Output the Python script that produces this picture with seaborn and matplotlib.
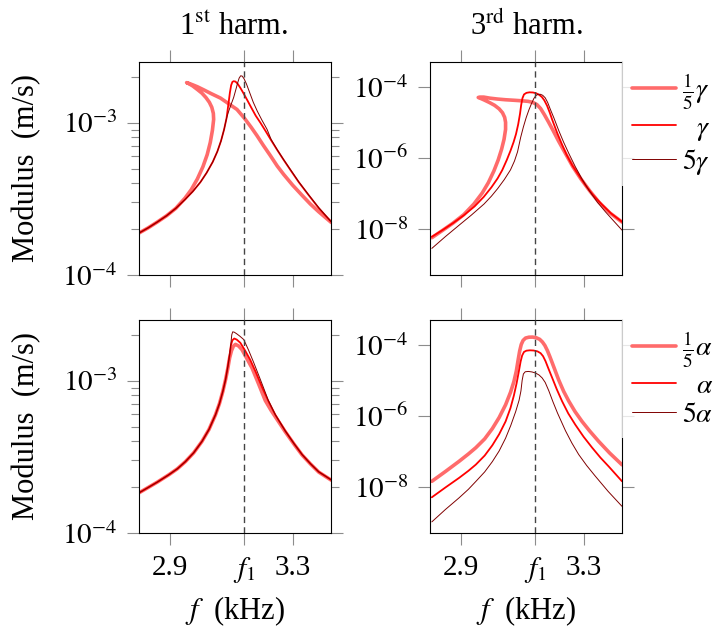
import numpy as np
import matplotlib
matplotlib.use("Agg")
import matplotlib.pyplot as plt
from matplotlib.ticker import LogLocator, NullLocator, NullFormatter
import seaborn as sns

# ====== Data ======
F1 = 3.143  # kHz, linear resonance

# --- 1st harmonic, gamma sweep ---
f_h1_g5th = [2.801, 2.830, 2.860, 2.890, 2.920, 2.950, 2.970, 2.990, 3.008, 3.022, 3.032, 3.039,
             3.043, 3.042, 3.037, 3.029, 3.018, 3.005, 2.990, 2.975, 2.963, 2.955,
             2.962, 2.975, 2.990, 3.011, 3.035, 3.065, 3.092, 3.119, 3.143, 3.165, 3.184, 3.205,
             3.227, 3.250, 3.271, 3.300, 3.331, 3.358, 3.385, 3.426]
v_h1_g5th = [1.89e-4, 2.04e-4, 2.23e-4, 2.45e-4, 2.74e-4, 3.20e-4, 3.63e-4, 4.27e-4, 5.13e-4,
             6.17e-4, 7.41e-4, 8.91e-4, 1.05e-3, 1.15e-3, 1.26e-3, 1.36e-3, 1.46e-3, 1.56e-3,
             1.65e-3, 1.74e-3, 1.80e-3, 1.83e-3,
             1.81e-3, 1.77e-3, 1.72e-3, 1.64e-3, 1.55e-3, 1.45e-3, 1.33e-3, 1.22e-3, 1.07e-3,
             9.33e-4, 8.22e-4, 7.08e-4, 6.10e-4, 5.19e-4, 4.57e-4, 3.89e-4, 3.33e-4, 2.92e-4,
             2.60e-4, 2.21e-4]
f_h1_g = [2.801, 2.830, 2.860, 2.890, 2.920, 2.950, 2.975, 3.000, 3.020, 3.040, 3.055, 3.067,
          3.077, 3.085, 3.091, 3.096, 3.100, 3.104, 3.108, 3.114, 3.121, 3.130, 3.140, 3.152,
          3.165, 3.180, 3.195, 3.212, 3.230, 3.250, 3.271, 3.292, 3.320, 3.352, 3.385, 3.426]
v_h1_g = [1.89e-4, 2.04e-4, 2.23e-4, 2.45e-4, 2.74e-4, 3.13e-4, 3.53e-4, 4.07e-4, 4.68e-4,
          5.52e-4, 6.46e-4, 7.59e-4, 9.02e-4, 1.07e-3, 1.32e-3, 1.58e-3, 1.76e-3, 1.85e-3,
          1.87e-3, 1.86e-3, 1.80e-3, 1.69e-3, 1.56e-3, 1.41e-3, 1.26e-3, 1.11e-3, 1.00e-3,
          8.81e-4, 7.67e-4, 6.61e-4, 5.69e-4, 4.92e-4, 4.07e-4, 3.35e-4, 2.75e-4, 2.23e-4]
f_h1_g5 = [2.801, 2.830, 2.860, 2.890, 2.920, 2.950, 2.975, 3.000, 3.020, 3.040, 3.055, 3.067,
           3.077, 3.085, 3.092, 3.100, 3.108, 3.115, 3.121, 3.126, 3.131, 3.136, 3.142, 3.150,
           3.160, 3.172, 3.185, 3.200, 3.217, 3.230, 3.250, 3.271, 3.292, 3.320, 3.352, 3.385,
           3.426]
v_h1_g5 = [1.89e-4, 2.04e-4, 2.23e-4, 2.45e-4, 2.74e-4, 3.13e-4, 3.53e-4, 4.07e-4, 4.68e-4,
           5.52e-4, 6.46e-4, 7.59e-4, 9.02e-4, 1.07e-3, 1.19e-3, 1.32e-3, 1.46e-3, 1.64e-3,
           1.82e-3, 1.96e-3, 2.03e-3, 2.02e-3, 1.94e-3, 1.79e-3, 1.58e-3, 1.36e-3, 1.19e-3,
           1.04e-3, 9.02e-4, 7.76e-4, 6.64e-4, 5.71e-4, 4.95e-4, 4.09e-4, 3.36e-4, 2.77e-4,
           2.23e-4]

# --- 3rd harmonic, gamma sweep ---
f_h3_g5th = [2.806, 2.840, 2.875, 2.910, 2.943, 2.970, 2.990, 3.008, 3.022, 3.033, 3.041, 3.046,
             3.046, 3.043, 3.036, 3.025, 3.010, 2.993, 2.976, 2.963, 2.957,
             2.963, 2.975, 2.995, 3.020, 3.046, 3.075, 3.100, 3.120, 3.135, 3.148, 3.160, 3.172,
             3.185, 3.200, 3.218, 3.241, 3.265, 3.290, 3.320, 3.350, 3.385, 3.425]
v_h3_g5th = [5.62e-9, 8.91e-9, 1.45e-8, 2.51e-8, 5.01e-8, 1.02e-7, 2.00e-7, 4.27e-7, 8.71e-7,
             1.74e-6, 3.31e-6, 6.31e-6, 1.00e-5, 1.38e-5, 1.86e-5, 2.40e-5, 3.02e-5, 3.63e-5,
             4.27e-5, 4.79e-5, 5.01e-5,
             5.13e-5, 5.13e-5, 4.79e-5, 4.52e-5, 4.32e-5, 4.17e-5, 4.03e-5, 3.89e-5, 3.63e-5,
             3.16e-5, 2.45e-5, 1.66e-5, 1.05e-5, 6.03e-6, 3.02e-6, 1.32e-6, 5.62e-7, 2.63e-7,
             1.17e-7, 5.62e-8, 2.82e-8, 1.55e-8]
f_h3_g = [2.806, 2.840, 2.875, 2.910, 2.945, 2.975, 3.000, 3.020, 3.035, 3.050, 3.062, 3.072,
          3.080, 3.087, 3.093, 3.097, 3.101, 3.106, 3.114, 3.124, 3.135, 3.145, 3.155, 3.164,
          3.172, 3.181, 3.190, 3.198, 3.214, 3.230, 3.245, 3.263, 3.285, 3.306, 3.330, 3.360,
          3.390, 3.425]
v_h3_g = [5.96e-9, 9.12e-9, 1.45e-8, 2.40e-8, 4.27e-8, 7.94e-8, 1.48e-7, 2.63e-7, 4.47e-7,
          8.71e-7, 1.58e-6, 2.75e-6, 4.68e-6, 8.71e-6, 1.74e-5, 3.16e-5, 4.79e-5, 6.10e-5,
          6.76e-5, 7.00e-5, 6.92e-5, 6.61e-5, 5.96e-5, 5.19e-5, 4.17e-5, 2.95e-5, 1.86e-5,
          1.17e-5, 5.01e-6, 2.34e-6, 1.20e-6, 6.17e-7, 3.16e-7, 1.70e-7, 9.12e-8, 4.79e-8,
          2.69e-8, 1.58e-8]
f_h3_g5 = [2.806, 2.850, 2.8945, 2.935, 2.976, 3.000, 3.020, 3.042, 3.062, 3.075, 3.085, 3.095,
           3.104, 3.113, 3.122, 3.130, 3.138, 3.145, 3.152, 3.160, 3.167, 3.175, 3.183, 3.192,
           3.203, 3.219, 3.235, 3.252, 3.273, 3.295, 3.317, 3.345, 3.371, 3.398, 3.425]
v_h3_g5 = [2.81e-9, 6.03e-9, 1.26e-8, 2.45e-8, 5.01e-8, 8.32e-8, 1.35e-7, 2.45e-7, 4.57e-7,
           8.13e-7, 1.48e-6, 3.72e-6, 7.41e-6, 1.35e-5, 2.24e-5, 3.31e-5, 4.68e-5, 5.69e-5,
           6.17e-5, 6.14e-5, 5.75e-5, 4.90e-5, 3.63e-5, 2.29e-5, 1.35e-5, 5.89e-6, 2.75e-6,
           1.32e-6, 5.62e-7, 2.51e-7, 1.23e-7, 5.62e-8, 3.02e-8, 1.66e-8, 9.18e-9]

# --- 1st harmonic, alpha sweep ---
f_h1_a5th = [2.801, 2.830, 2.860, 2.897, 2.925, 2.951, 2.978, 3.005, 3.028, 3.049, 3.062, 3.073,
             3.082, 3.089, 3.095, 3.101, 3.107, 3.114, 3.124, 3.135, 3.150, 3.168, 3.190, 3.211,
             3.230, 3.276, 3.305, 3.331, 3.358, 3.385, 3.426]
v_h1_a5th = [1.84e-4, 1.99e-4, 2.16e-4, 2.41e-4, 2.64e-4, 2.94e-4, 3.36e-4, 3.99e-4, 4.79e-4,
             5.97e-4, 7.08e-4, 8.51e-4, 1.02e-3, 1.20e-3, 1.41e-3, 1.57e-3, 1.68e-3, 1.73e-3,
             1.69e-3, 1.60e-3, 1.41e-3, 1.21e-3, 9.44e-4, 7.41e-4, 6.38e-4, 4.62e-4, 3.82e-4,
             3.25e-4, 2.84e-4, 2.51e-4, 2.22e-4]
f_h1_a = [2.801, 2.830, 2.860, 2.897, 2.925, 2.951, 2.978, 3.005, 3.028, 3.049, 3.062, 3.073,
          3.082, 3.089, 3.095, 3.099, 3.104, 3.110, 3.118, 3.130, 3.145, 3.162, 3.180, 3.200,
          3.220, 3.244, 3.276, 3.305, 3.331, 3.358, 3.385, 3.426]
v_h1_a = [1.84e-4, 1.99e-4, 2.16e-4, 2.41e-4, 2.64e-4, 2.94e-4, 3.36e-4, 3.99e-4, 4.79e-4,
          5.97e-4, 7.08e-4, 8.51e-4, 1.02e-3, 1.23e-3, 1.48e-3, 1.70e-3, 1.84e-3, 1.89e-3,
          1.86e-3, 1.77e-3, 1.58e-3, 1.37e-3, 1.14e-3, 9.12e-4, 7.41e-4, 5.96e-4, 4.68e-4,
          3.85e-4, 3.27e-4, 2.85e-4, 2.52e-4, 2.23e-4]
f_h1_a5 = [2.801, 2.830, 2.860, 2.897, 2.925, 2.951, 2.978, 3.005, 3.028, 3.049, 3.062, 3.073,
           3.082, 3.089, 3.095, 3.099, 3.102, 3.105, 3.110, 3.118, 3.128, 3.141, 3.157, 3.173,
           3.190, 3.205, 3.220, 3.244, 3.276, 3.305, 3.331, 3.358, 3.385, 3.426]
v_h1_a5 = [1.84e-4, 1.99e-4, 2.16e-4, 2.41e-4, 2.64e-4, 2.94e-4, 3.36e-4, 3.99e-4, 4.79e-4,
           5.97e-4, 7.08e-4, 8.51e-4, 1.02e-3, 1.23e-3, 1.48e-3, 1.74e-3, 2.00e-3, 2.09e-3,
           2.08e-3, 2.03e-3, 1.96e-3, 1.86e-3, 1.58e-3, 1.32e-3, 1.08e-3, 9.02e-4, 7.50e-4,
           5.96e-4, 4.68e-4, 3.85e-4, 3.27e-4, 2.85e-4, 2.52e-4, 2.23e-4]

# --- 3rd harmonic, alpha sweep ---
f_h3_a5th = [2.806, 2.850, 2.8945, 2.925, 2.949, 2.978, 3.003, 3.025, 3.046, 3.062, 3.073, 3.081,
             3.087, 3.092, 3.097, 3.103, 3.111, 3.122, 3.134, 3.146, 3.157, 3.166, 3.174, 3.182,
             3.190, 3.198, 3.208, 3.219, 3.235, 3.252, 3.272, 3.295, 3.320, 3.349, 3.385, 3.425]
v_h3_a5th = [1.43e-8, 2.69e-8, 5.21e-8, 8.41e-8, 1.26e-7, 2.24e-7, 4.37e-7, 8.91e-7, 2.04e-6,
             4.57e-6, 9.12e-6, 1.82e-5, 3.80e-5, 6.76e-5, 1.02e-4, 1.33e-4, 1.55e-4, 1.64e-4,
             1.65e-4, 1.58e-4, 1.43e-4, 1.20e-4, 9.55e-5, 6.92e-5, 4.68e-5, 3.09e-5, 1.82e-5,
             1.02e-5, 4.90e-6, 2.57e-6, 1.32e-6, 6.92e-7, 3.72e-7, 1.91e-7, 8.91e-8, 4.17e-8]
f_h3_a = [2.806, 2.850, 2.8945, 2.925, 2.949, 2.978, 3.003, 3.025, 3.046, 3.062, 3.073, 3.082,
          3.089, 3.095, 3.100, 3.106, 3.114, 3.125, 3.137, 3.150, 3.160, 3.168, 3.176, 3.186,
          3.198, 3.213, 3.230, 3.250, 3.273, 3.300, 3.328, 3.355, 3.382, 3.425]
v_h3_a = [5.07e-9, 9.55e-9, 1.78e-8, 2.82e-8, 4.21e-8, 7.59e-8, 1.48e-7, 3.02e-7, 6.92e-7,
          1.66e-6, 3.72e-6, 8.32e-6, 1.74e-5, 3.39e-5, 5.01e-5, 6.31e-5, 6.84e-5, 7.00e-5,
          6.92e-5, 6.53e-5, 5.82e-5, 4.79e-5, 3.47e-5, 2.09e-5, 1.16e-5, 5.50e-6, 2.57e-6,
          1.17e-6, 5.62e-7, 2.57e-7, 1.26e-7, 6.61e-8, 3.72e-8, 1.43e-8]
f_h3_a5 = [2.806, 2.850, 2.8945, 2.925, 2.949, 2.978, 3.003, 3.025, 3.046, 3.063, 3.079, 3.090,
           3.096, 3.100, 3.104, 3.110, 3.120, 3.132, 3.144, 3.155, 3.165, 3.175, 3.187, 3.200,
           3.215, 3.241, 3.262, 3.284, 3.310, 3.338, 3.380, 3.425]
v_h3_a5 = [1.03e-9, 2.29e-9, 4.88e-9, 8.51e-9, 1.41e-8, 2.63e-8, 5.13e-8, 1.02e-7, 2.34e-7,
           5.37e-7, 1.32e-6, 2.75e-6, 5.01e-6, 1.00e-5, 1.51e-5, 1.74e-5, 1.78e-5, 1.72e-5,
           1.60e-5, 1.41e-5, 1.17e-5, 8.71e-6, 5.01e-6, 2.51e-6, 1.20e-6, 3.80e-7, 1.70e-7,
           8.13e-8, 3.98e-8, 2.00e-8, 7.41e-9, 2.82e-9]

x_ticks = [2.9, F1, 3.3]
x_tick_labels = ["2.9", r"$f_1$", "3.3"]
y_ticks_h1 = [1e-4, 1e-3]
y_tick_labels_h1 = [r"$10^{-4}$", r"$10^{-3}$"]
y_ticks_h3 = [1e-8, 1e-6, 1e-4]
y_tick_labels_h3 = [r"$10^{-8}$", r"$10^{-6}$", r"$10^{-4}$"]
gamma_labels = [r"$\frac{1}{5}\gamma$", r"$\gamma$", r"$5\gamma$"]
alpha_labels = [r"$\frac{1}{5}\alpha$", r"$\alpha$", r"$5\alpha$"]

# ====== Style ======
COLORS = ["#ff6b6b", "#ff0000", "#800000"]
WIDTHS = [2.6, 1.3, 0.7]
TEXT_FS = 22
TICK_FS = 21
LEG_FS = 20
TICK_GRAY = "#8c8c8c"

sns.set_theme(style="white")
plt.rcParams["font.family"] = ["Liberation Serif", "DejaVu Serif"]
plt.rcParams["mathtext.fontset"] = "stix"
plt.rcParams["text.color"] = "black"

fig = plt.figure(figsize=(7.21, 6.34), dpi=100)
W, H = 721, 634


def rect(x0, y0, x1, y1):
    return [x0 / W, 1 - y1 / H, (x1 - x0) / W, (y1 - y0) / H]


def draw_panel(ax, curves, ylim, yticks, yticklabels, minor, bottom_labels):
    ax.set_yscale("log")
    for (f, v), color, lw in zip(curves, COLORS, WIDTHS):
        sns.lineplot(x=f, y=v, sort=False, estimator=None, errorbar=None,
                     color=color, linewidth=lw, legend=False, ax=ax)
    ax.axvline(F1, color="#444444", lw=1.0, dashes=(4.5, 3), zorder=3)
    ax.set_xlim(2.8, 3.425)
    ax.set_ylim(*ylim)
    ax.set_xticks(x_ticks, labels=x_tick_labels)
    ax.set_yticks(yticks, labels=yticklabels)
    ax.xaxis.set_minor_locator(NullLocator())
    if minor:
        ax.yaxis.set_minor_locator(LogLocator(base=10, subs=np.arange(2, 10)))
    else:
        ax.yaxis.set_minor_locator(NullLocator())
    ax.yaxis.set_minor_formatter(NullFormatter())
    ax.tick_params(which="both", direction="out", left=True, right=True, top=True, bottom=True,
                   color=TICK_GRAY, labelcolor="black", width=0.8, labelsize=TICK_FS, pad=7,
                   labelbottom=bottom_labels, labeltop=False, labelright=False)
    ax.tick_params(which="major", length=8.5)
    ax.tick_params(which="minor", length=5.5)
    ax.set_xlabel("")
    ax.set_ylabel("")
    for s in ax.spines.values():
        s.set_color("black")
        s.set_linewidth(0.8)


def add_legend(ax, labels):
    handles = ax.get_lines()[:3]
    leg = ax.legend(handles, labels, loc="upper left", bbox_to_anchor=(1.0, 1.0),
                    fontsize=LEG_FS, handlelength=1.6, handletextpad=0.2, labelspacing=0.12,
                    borderpad=0.35, borderaxespad=0.0, frameon=True, fancybox=False,
                    labelcolor="black")
    leg.get_frame().set_facecolor("white")
    leg.get_frame().set_edgecolor("none")
    return leg


ax_tl = fig.add_axes(rect(139, 62, 331, 275))
ax_tr = fig.add_axes(rect(430, 62, 622, 275))
ax_bl = fig.add_axes(rect(139, 320, 331, 533))
ax_br = fig.add_axes(rect(430, 320, 622, 533))

draw_panel(ax_tl, [(f_h1_g5th, v_h1_g5th), (f_h1_g, v_h1_g), (f_h1_g5, v_h1_g5)],
           (1e-4, 2.5e-3), y_ticks_h1, y_tick_labels_h1, True, False)
draw_panel(ax_tr, [(f_h3_g5th, v_h3_g5th), (f_h3_g, v_h3_g), (f_h3_g5, v_h3_g5)],
           (5e-10, 5e-4), y_ticks_h3, y_tick_labels_h3, False, False)
draw_panel(ax_bl, [(f_h1_a5th, v_h1_a5th), (f_h1_a, v_h1_a), (f_h1_a5, v_h1_a5)],
           (1e-4, 2.5e-3), y_ticks_h1, y_tick_labels_h1, True, True)
draw_panel(ax_br, [(f_h3_a5th, v_h3_a5th), (f_h3_a, v_h3_a), (f_h3_a5, v_h3_a5)],
           (5e-10, 5e-4), y_ticks_h3, y_tick_labels_h3, False, True)

legends = [add_legend(ax_tr, gamma_labels), add_legend(ax_br, alpha_labels)]

# titles and axis labels
fig.text(234 / W, 1 - 35 / H, r"1$^{\rm st}$ harm.", ha="center", va="baseline", fontsize=TEXT_FS)
fig.text(526 / W, 1 - 35 / H, r"3$^{\rm rd}$ harm.", ha="center", va="baseline", fontsize=TEXT_FS)
for yc in (168.5, 426.5):
    fig.text(27 / W, 1 - yc / H, "Modulus  (m/s)", rotation=90, ha="center", va="center",
             fontsize=TEXT_FS)
for xc in (235, 526):
    fig.text(xc / W, 1 - 619 / H, r"$f$  (kHz)", ha="center", va="baseline", fontsize=TEXT_FS)

# right-align legend labels while keeping the line samples lined up
fig.canvas.draw()
renderer = fig.canvas.get_renderer()
for leg in legends:
    texts = leg.get_texts()
    widths = [t.get_window_extent(renderer).width for t in texts]
    wmax = max(widths)
    for t, w in zip(texts, widths):
        t.set_x(wmax - w)

fig.savefig("out.png", dpi=100)
